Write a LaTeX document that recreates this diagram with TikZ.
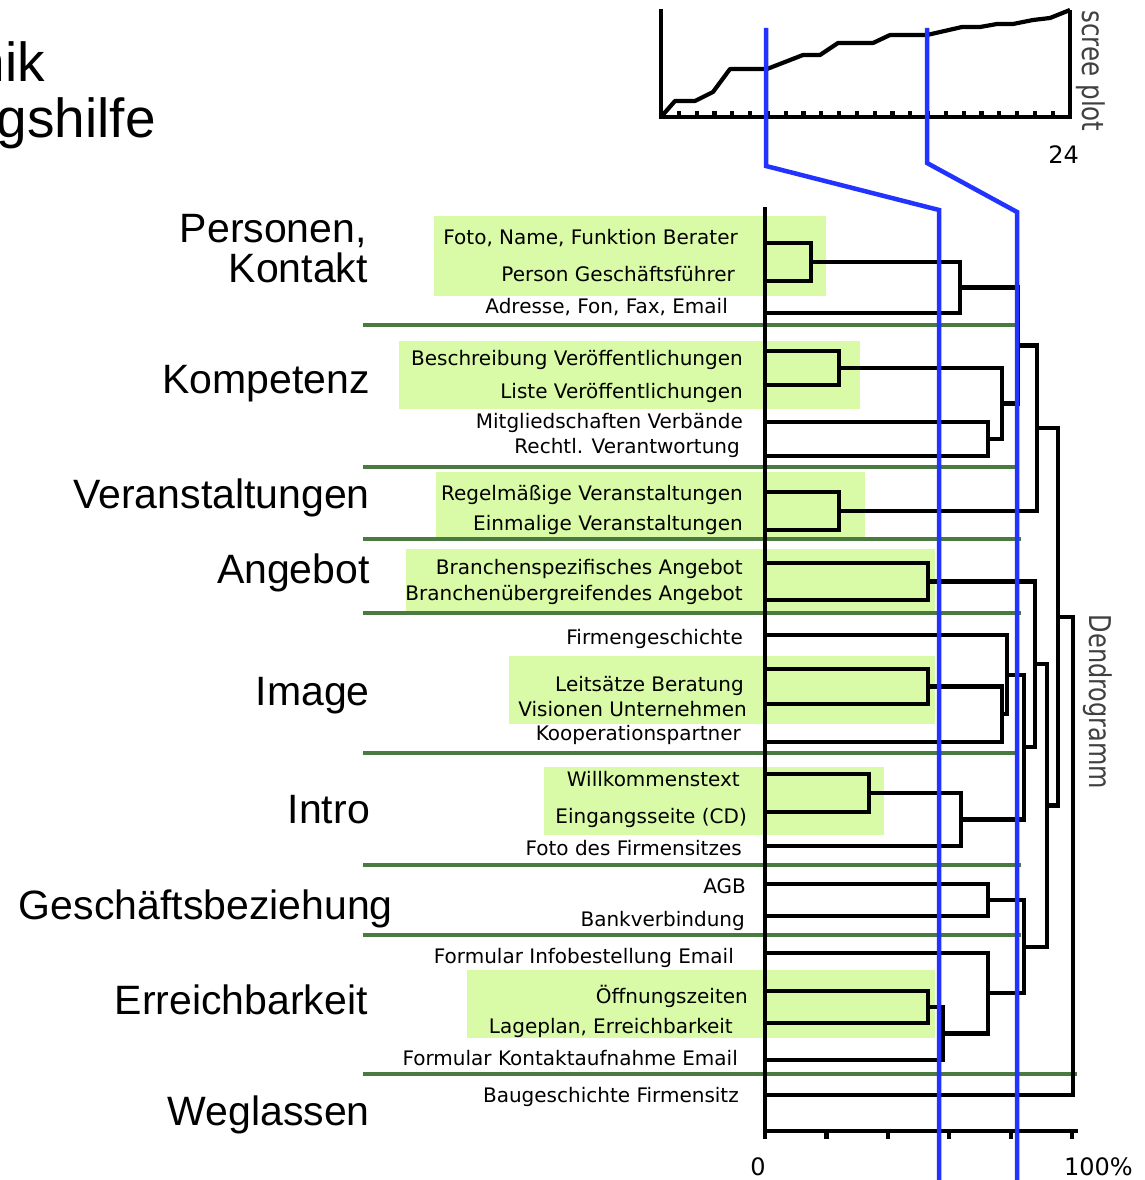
\documentclass[tikz,border=0pt]{standalone}
\usepackage{fontspec}
\setmainfont{Liberation Sans}
\newfontfamily\leaffont{DejaVu Sans}
\usetikzlibrary{calc}
\pgfdeclarelayer{background}
\pgfsetlayers{background,main}
\definecolor{marked}{RGB}{217,250,166}
\definecolor{sepgreen}{RGB}{74,122,63}
\definecolor{cutblue}{RGB}{34,51,255}
\tikzstyle{leaf}=[anchor=base east,inner sep=0pt,font=\leaffont\fontsize{20}{24}\selectfont]
\tikzstyle{group}=[anchor=base east,inner sep=0pt,font=\fontsize{41}{48}\selectfont]
\tikzstyle{title}=[anchor=base east,inner sep=0pt,font=\fontsize{55}{60}\selectfont]
\tikzstyle{num}=[inner sep=0pt,font=\leaffont\fontsize{24}{28}\selectfont]
\tikzstyle{side}=[rotate=-90,inner sep=0pt,black!75,font=\leaffont\fontsize{30}{34}\selectfont]
\tikzstyle{dendro}=[draw,line width=4.2pt]
\tikzstyle{axis}=[draw,line width=4.2pt]
\tikzstyle{sep}=[draw,sepgreen,line width=3.6pt]
\tikzstyle{cut}=[draw,cutblue,line width=4.5pt]

\begin{document}
\begin{tikzpicture}[x=1pt,y=-1pt]
	\useasboundingbox (0,0) rectangle (1145,1180);
	\clip (0,0) rectangle (1145,1180);

	% Title, cut off at the left edge
	\node[title] (titleA) at (45,82) {nik};
	\node[title] (titleB) at (156,137) {gshilfe};

	% Scree plot with its axes and ticks
	\draw[axis] (661,9) -- (661,117) -- (1070,117) -- (1070,10);
	\foreach \i in {1,...,22}
		\draw[axis] ({661+\i*17.8},117) -- ++(0,-6);
	\draw[axis,line join=round] plot coordinates {(661,117) (675,101) (695,101) (713,92) (730,69) (767,69) (803,55) (820,55) (838,43) (873,43) (890,35) (927,35) (962,27) (980,27) (997,24) (1013,24) (1033,20) (1050,18) (1070,10)};
	\node[side] (scree) at (1091,71) {\scalebox{0.82}[1]{scree plot}};
	\node[num,anchor=base east] (n24) at (1079,164) {24};

	% Highlighted items and group separators
	\begin{pgfonlayer}{background}
		\foreach \a/\b in {{(434,216)/(826,296)}, {(399,341)/(860,409)}, {(436,472)/(865,538)}, {(406,549)/(935,613)}, {(509,656)/(935,724)}, {(544,767)/(884,835)}, {(467,970)/(935,1038)}}
			\fill[marked] \a rectangle \b;
		\foreach \y/\e in {325/1018, 467/1018, 539/1021, 613/1021, 753/1018, 865/1021, 935/1021, 1074/1077}
			\path[sep] (363,\y) -- (\e,\y);
	\end{pgfonlayer}

	% Group names
	\foreach \x/\y/\txt [count=\i] in {367/242/{Personen,}, 368/282/Kontakt, 370/393/Kompetenz, 370/508/Veranstaltungen, 370/583/Angebot, 370/705/Image, 370/823/Intro, 393/919/Geschäftsbeziehung, 368/1014/Erreichbarkeit, 370/1125/Weglassen}
		\node[group] (g\i) at (\x,\y) {\txt};

	% Item names
	\foreach \x/\y/\txt [count=\i] in {738/244/{Foto, Name, Funktion Berater}, 735/281/Person Geschäftsführer, 728/313/{Adresse, Fon, Fax, Email}, 743/365/Beschreibung Veröffentlichungen, 743/398/Liste Veröffentlichungen, 743/428/Mitgliedschaften Verbände, 740/453/Rechtl. Verantwortung, 743/500/Regelmäßige Veranstaltungen, 743/530/Einmalige Veranstaltungen, 743/574/Branchenspezifisches Angebot, 743/600/Branchenübergreifendes Angebot, 743/644/Firmengeschichte, 744/691/Leitsätze Beratung, 747/716/Visionen Unternehmen, 741/740/Kooperationspartner, 740/786/Willkommenstext, 747/823/Eingangsseite (CD), 742/855/Foto des Firmensitzes, 746/893/AGB, 745/926/Bankverbindung, 734/963/Formular Infobestellung Email, 748/1003/Öffnungszeiten, 733/1033/{Lageplan, Erreichbarkeit}, 738/1065/Formular Kontaktaufnahme Email, 739/1102/Baugeschichte Firmensitz}
		\node[leaf] (t\i) at (\x,\y) {\txt};

	% Leaves of the dendrogram
	\foreach \y [count=\i] in {243,281,313,351,385,422,456,492,530,563,600,635,669,704,742,774,812,846,884,916,953,991,1023,1060,1095}
		\coordinate (l\i) at (765,\y);

	% Merges: name / height / children
	\foreach \m/\h/\ca/\cb in {m1/811/l1/l2, m2/960/m1/l3, m3/839/l4/l5, m4/988/l6/l7, m5/1002/m3/m4, m6/1018/m2/m5, m7/839/l8/l9, m8/1037/m6/m7, m9/928/l10/l11, m10/928/l13/l14, m11/1002/m10/l15, m12/1007/l12/m11, m13/869/l16/l17, m14/961/m13/l18, m15/1024/m12/m14, m16/1035/m9/m15, m17/988/l19/l20, m18/928/l22/l23, m19/943/m18/l24, m20/988/l21/m19, m21/1024/m17/m20, m22/1047/m16/m21, m23/1058/m8/m22, m24/1073/m23/l25}
	{
		\coordinate (\m mid) at ($(\ca)!.5!(\cb)$);
		\coordinate (\m) at (\h,0 |- \m mid);
		\path[dendro] (\ca) -| (\m) |- (\cb);
	}

	% Axes of the dendrogram
	\draw[axis] (765,207) -- (765,1138);
	\draw[axis] (763,1131) -- (1078,1131);
	\foreach \i in {0,...,5}
		\draw[axis] ({765+\i*61.4},1131) -- ++(0,8);
	\node[num,anchor=base] (n0) at (758,1175) {0};
	\node[num,anchor=base east] (n100) at (1133,1175) {100\%};
	\node[side] (dendro) at (1098,702) {\scalebox{0.8}[1]{Dendrogramm}};

	% Cut levels taken over from the scree plot
	\coordinate (cutLa) at (766,28);
	\coordinate (cutLb) at (766,166);
	\coordinate (cutLc) at (939,210);
	\coordinate (cutLd) at (939,1180);
	\coordinate (cutRa) at (927,28);
	\coordinate (cutRb) at (927,163);
	\coordinate (cutRc) at (1017,212);
	\coordinate (cutRd) at (1017,1180);
	\path[cut] (cutLa) -- (cutLb) -- (cutLc) -- (cutLd);
	\path[cut] (cutRa) -- (cutRb) -- (cutRc) -- (cutRd);
\end{tikzpicture}
\end{document}
